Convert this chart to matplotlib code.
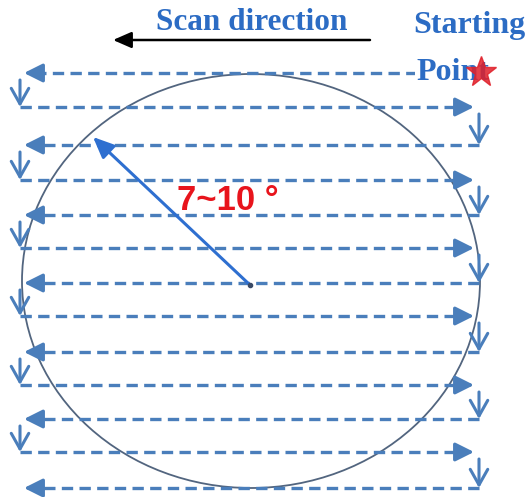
import matplotlib.pyplot as plt
from matplotlib.patches import Ellipse

# scan lines (pixel rows), first one goes left, then alternating
scan_y = [73, 107, 145, 180, 215, 248, 283, 316, 352, 385, 419, 452, 488]
scan_dir = ["left", "right"] * 6 + ["left"]
x_left = 22
x_right = 476

# circle (wafer) and the tilt radius
circle_center = (251, 281)
circle_size = (458, 414)
radius_start = (250, 285)
radius_end = (93, 137)
angle_label = "7~10 \u00b0"

line_col = "#4a7ebb"
dash = [3.4, 1.9]

fig = plt.figure(figsize=(5.28, 4.97), dpi=100)
ax = fig.add_axes([0, 0, 1, 1])
ax.set_xlim(0, 528)
ax.set_ylim(497, 0)
ax.axis("off")

# wafer outline
ax.add_patch(Ellipse(circle_center, circle_size[0], circle_size[1],
                     fill=False, ec="#52657f", lw=1.3, zorder=2))

head_style = "-|>,head_length=0.8,head_width=0.4"

# dashed scan lines with solid heads
for i, (y, d) in enumerate(zip(scan_y, scan_dir)):
    head = 14
    if d == "left":
        start = 470 if i == 0 else x_right + 3
        tip = x_left + 2
        ax.plot([start, tip + head], [y, y], color=line_col, lw=2.4,
                dashes=dash, zorder=3)
        ax.annotate("", xy=(tip, y), xytext=(tip + head + 2, y),
                    arrowprops=dict(arrowstyle=head_style,
                                    mutation_scale=14, color=line_col, lw=2.4,
                                    shrinkA=0, shrinkB=0), zorder=3)
    else:
        start = x_left - 2
        tip = x_right - 2
        ax.plot([start, tip - head], [y, y], color=line_col, lw=2.4,
                dashes=dash, zorder=3)
        ax.annotate("", xy=(tip, y), xytext=(tip - head - 2, y),
                    arrowprops=dict(arrowstyle=head_style,
                                    mutation_scale=14, color=line_col, lw=2.4,
                                    shrinkA=0, shrinkB=0), zorder=3)
    # step down to next line
    if i < len(scan_y) - 1:
        ny = scan_y[i + 1]
        xs = 20 if d == "left" else 479
        ax.annotate("", xy=(xs, ny), xytext=(xs, y + 7),
                    arrowprops=dict(arrowstyle="->,head_length=0.8,head_width=0.45",
                                    mutation_scale=14, color=line_col, lw=2.2,
                                    shrinkA=0, shrinkB=0), zorder=3)

# tilt radius
ax.annotate("", xy=radius_end, xytext=radius_start,
            arrowprops=dict(arrowstyle="-|>,head_length=0.8,head_width=0.35",
                            mutation_scale=16, color="#2e6fd0", lw=2.2,
                            shrinkA=0, shrinkB=0), zorder=4)
ax.plot(*radius_start, "o", color="#3a4a66", ms=3, zorder=5)
ax.text(177, 201, angle_label, color="#e8141c", fontsize=25, fontweight="bold",
        family="Liberation Sans", ha="left", va="center", zorder=5)

# scan direction
ax.text(252, 22, "Scan direction", color="#2c6cc4", fontsize=22.5,
        fontweight="bold", family="Liberation Serif", ha="center", va="center")
ax.annotate("", xy=(113, 40), xytext=(370, 40),
            arrowprops=dict(arrowstyle="-|>,head_length=0.8,head_width=0.35",
                            mutation_scale=14, color="black", lw=1.8,
                            shrinkA=0, shrinkB=0))

# starting point
ax.text(413, 26, "Starting", color="#2c6cc4", fontsize=23,
        fontweight="bold", family="Liberation Serif", ha="left", va="center")
ax.text(416, 72, "Point", color="#2c6cc4", fontsize=23, fontweight="bold",
        family="Liberation Serif", ha="left", va="center", zorder=6,
        bbox=dict(fc="white", ec="none", pad=0.5))
ax.plot(481, 72, marker="*", color="#e0202a", ms=23, mec="#e0202a",
        alpha=0.85, zorder=7)

fig.savefig("out.png", dpi=100)
